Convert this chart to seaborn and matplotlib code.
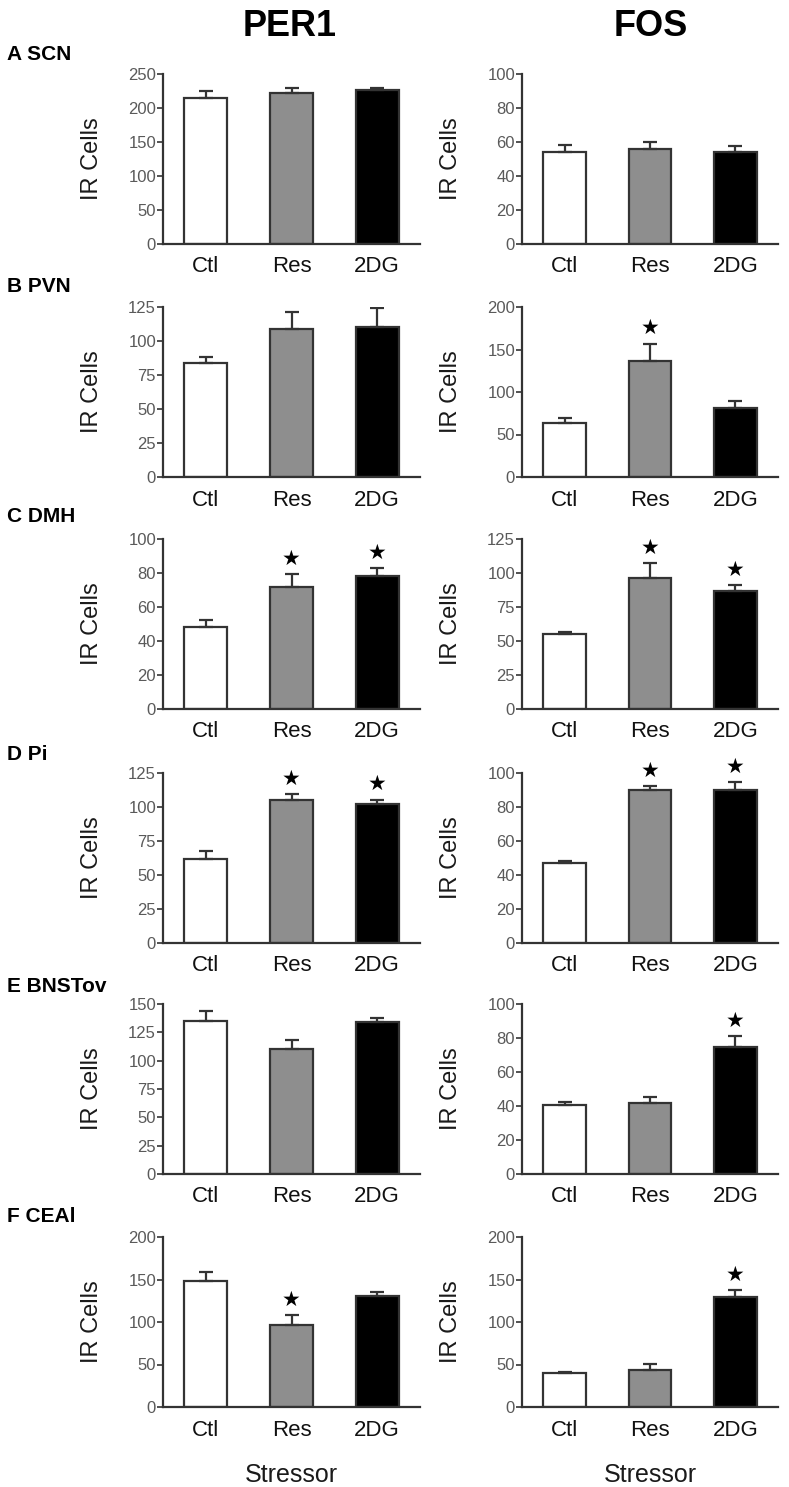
import numpy as np
import seaborn as sns
import matplotlib
matplotlib.use("Agg")
import matplotlib.pyplot as plt

# data
cats = ["Ctl", "Res", "2DG"]
regions = ["A SCN", "B PVN", "C DMH", "D Pi", "E BNSTov", "F CEAl"]

per1_mean = [[215, 222, 227], [84, 109, 110], [48, 72, 78],
             [62, 105, 102], [135, 110, 134], [148, 97, 131]]
per1_sem = [[10, 8, 2], [4, 12, 14], [4.5, 7.5, 5],
            [6, 4.5, 3.5], [8.5, 8, 4], [11, 11.5, 4]]
per1_sig = [[0, 0, 0], [0, 0, 0], [0, 1, 1], [0, 1, 1], [0, 0, 0], [0, 1, 0]]
per1_ymax = [250, 125, 100, 125, 150, 200]
per1_step = [50, 25, 20, 25, 25, 50]

fos_mean = [[54, 56, 54], [64, 137, 81], [55, 96, 87],
            [47, 90, 90], [40.5, 41.5, 75], [40, 43, 129]]
fos_sem = [[4, 4, 3.5], [5, 20, 8], [1.5, 11, 4],
           [1, 2.5, 4.5], [2, 4, 6], [1, 8, 9]]
fos_sig = [[0, 0, 0], [0, 1, 0], [0, 1, 1], [0, 1, 1], [0, 0, 1], [0, 0, 1]]
fos_ymax = [100, 200, 125, 100, 100, 200]
fos_step = [20, 50, 25, 20, 20, 50]

bar_colors = {"Ctl": "white", "Res": "#8e8e8e", "2DG": "black"}

sns.set_style("ticks")
plt.rcParams["font.family"] = ["Liberation Sans", "DejaVu Sans"]

W, H = 789, 1487
fig = plt.figure(figsize=(W / 100, H / 100), dpi=100)

row_top = [74, 307, 539, 773, 1004, 1237]
ax_h = 170
col_left = [163, 522]
col_w = [257, 256]
dark = "#333333"


def draw_panel(ax, means, sems, sig, ymax, step, last):
    sns.barplot(x=cats, y=means, hue=cats, palette=bar_colors, order=cats,
                edgecolor=dark, linewidth=1.6, width=0.5, saturation=1,
                legend=False, ax=ax)
    xs = np.arange(len(cats))
    ax.errorbar(xs, means, yerr=[np.zeros(len(sems)), sems], fmt="none",
                ecolor=dark, elinewidth=1.6, capsize=5, capthick=1.6, zorder=1)
    for x, m, s, flag in zip(xs, means, sems, sig):
        if flag:
            ax.annotate("★", (x, m + s), xytext=(0, 11), textcoords="offset points",
                        ha="center", va="center", fontsize=15, color="black",
                        family="DejaVu Sans")
    ax.set_xlim(-0.5, 2.5)
    ax.set_ylim(0, ymax)
    ax.set_yticks(np.arange(0, ymax + 1, step))
    ax.set_ylabel("IR Cells", fontsize=17, color="#1a1a1a")
    ax.yaxis.set_label_coords(-0.235, 0.5)
    sns.despine(ax=ax)
    for sp in ["left", "bottom"]:
        ax.spines[sp].set_color(dark)
        ax.spines[sp].set_linewidth(1.6)
    ax.tick_params(axis="y", length=4, width=1.2, color=dark, labelsize=12,
                   labelcolor="#5a5a5a", pad=1)
    ax.tick_params(axis="x", length=0, labelsize=16, labelcolor="#111111", pad=9)
    if last:
        ax.set_xlabel("Stressor", fontsize=18, color="#1a1a1a", labelpad=16)
    else:
        ax.set_xlabel("")


for r in range(len(regions)):
    for c in range(2):
        bottom = 1 - (row_top[r] + ax_h) / H
        ax = fig.add_axes([col_left[c] / W, bottom, col_w[c] / W, ax_h / H])
        if c == 0:
            draw_panel(ax, per1_mean[r], per1_sem[r], per1_sig[r],
                       per1_ymax[r], per1_step[r], r == len(regions) - 1)
        else:
            draw_panel(ax, fos_mean[r], fos_sem[r], fos_sig[r],
                       fos_ymax[r], fos_step[r], r == len(regions) - 1)

label_y = [55, 287, 517, 755, 986, 1217]
for lab, y in zip(regions, label_y):
    fig.text(7 / W, 1 - y / H, lab, fontsize=15, fontweight="bold",
             ha="left", va="center", color="black")

fig.text(290 / W, 1 - 26 / H, "PER1", fontsize=26, fontweight="bold",
         ha="center", va="center", color="black")
fig.text(651 / W, 1 - 26 / H, "FOS", fontsize=26, fontweight="bold",
         ha="center", va="center", color="black")

fig.savefig("out.png", dpi=100)
